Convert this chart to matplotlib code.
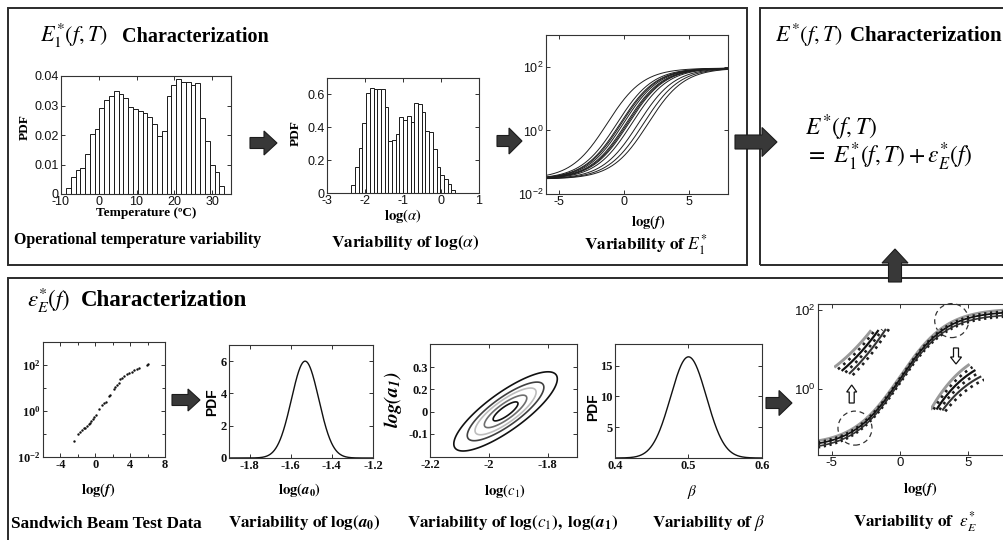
import numpy as np
import matplotlib
matplotlib.use("Agg")
import matplotlib.pyplot as plt
from matplotlib.patches import Rectangle, FancyArrow, Circle
from matplotlib.transforms import ScaledTranslation
from matplotlib.ticker import NullLocator, FixedLocator, NullFormatter

W, H, DPI = 1004, 540, 100
plt.rcParams["font.family"] = "Liberation Sans"
plt.rcParams["mathtext.fontset"] = "stix"

# ---------------- data ----------------
# operational temperature histogram (deg C)
temp_range = (-8.7, 33.2)
temp_pdf = [0.0020, 0.0057, 0.0080, 0.0088, 0.0135, 0.0203, 0.0220, 0.0290,
            0.0320, 0.0333, 0.0350, 0.0338, 0.0327, 0.0294, 0.0287, 0.0283,
            0.0274, 0.0260, 0.0237, 0.0197, 0.0212, 0.0333, 0.0370, 0.0389,
            0.0378, 0.0378, 0.0370, 0.0375, 0.0257, 0.0178, 0.0099, 0.0073,
            0.0026]

# shift factor histogram, log(alpha)
log_alpha_range = (-2.36, 0.37)
log_alpha_pdf = [0.051, 0.159, 0.276, 0.427, 0.606, 0.640, 0.630, 0.636, 0.632,
                 0.524, 0.317, 0.321, 0.358, 0.463, 0.447, 0.467, 0.433, 0.545,
                 0.539, 0.490, 0.378, 0.372, 0.270, 0.159, 0.108, 0.087, 0.057,
                 0.020]

# E1* master curves (sigmoid in log-log): plateaus, rate and midpoints
e1_low, e1_high, e1_rate = -1.53, 1.96, 0.72
e1_midpoints = [-1.3, -0.55, -0.3, -0.2, -0.05, 0.15, 0.25, 0.35, 0.6, 1.1, 1.5, 1.85]

# sandwich beam test data: log(f) and log10(E*)
beam_log_f = [-2.48, -1.98, -1.79, -1.52, -1.33, -1.14, -0.95, -0.76, -0.65, -0.46,
              -0.30, -0.11, 0.08, 0.46, 0.76, 1.03, 1.26, 1.52, 1.71, 2.10, 2.29,
              2.48, 2.67, 2.86, 3.05, 3.35, 3.62, 3.89, 4.19, 4.46, 4.76, 5.03,
              5.90, 6.10]
beam_log_E = [-1.30, -1.00, -0.90, -0.83, -0.75, -0.72, -0.65, -0.57, -0.54, -0.43,
              -0.35, -0.26, -0.19, 0.09, 0.26, 0.33, 0.41, 0.65, 0.70, 0.94, 1.03,
              1.13, 1.20, 1.38, 1.45, 1.54, 1.59, 1.64, 1.71, 1.77, 1.83, 1.88,
              2.00, 2.04]

# log(a0) distribution
a0_mean, a0_std = -1.53, 0.0665
# joint log(c1), log(a1) distribution (spread of the outer contour)
c1_mean, a1_mean = -1.943, 0.101
c1_spread, a1_spread, c1_a1_corr = 0.176, 0.178, 0.82
contour_radii = [0.24, 0.41, 0.59, 0.74, 1.0]
contour_colors = ["#111111", "#6e6e6e", "#bdbdbd", "#404040", "#111111"]
# beta distribution
beta_mean, beta_std = 0.50, 0.0243

# epsilon_E* realisations
eps_low, eps_high, eps_rate, eps_mid = -1.50, 1.95, 0.58, 0.0
eps_offsets = [0.09, 0.055, 0.02, -0.015, -0.05, -0.085]
eps_styles = [("-", "#9a9a9a", 1.8), (":", "#1e1e1e", 1.6), ("-", "#111111", 1.3),
              (":", "#1e1e1e", 1.6), ("-", "#333333", 1.2), (":", "#1e1e1e", 1.6)]

# ---------------- figure ----------------
fig = plt.figure(figsize=(W / DPI, H / DPI), dpi=DPI)
fig.patch.set_facecolor("white")

sans = dict(fontsize=9, family="Liberation Sans")
serifb = dict(fontsize=9, family="Liberation Serif", fontweight="bold")


def px_axes(l, t, r, b):
    return fig.add_axes([l / W, 1 - b / H, (r - l) / W, (b - t) / H])


def style(ax):
    ax.tick_params(direction="in", length=3, width=0.6, top=True, right=True,
                   pad=1.5, colors="#111111", which="both")
    ax.tick_params(which="minor", length=2)
    for s in ax.spines.values():
        s.set_linewidth(0.8)
        s.set_color("#333333")


def ftext(x, y, s, ha="left", va="center", **kw):
    return fig.text(x / W, 1 - y / H, s, ha=ha, va=va, **kw)


def sigmoid(x, low, high, rate, mid):
    return 10 ** (low + (high - low) / (1 + np.exp(-rate * (x - mid))))


def gauss(x, m, s):
    return np.exp(-0.5 * ((x - m) / s) ** 2) / (s * np.sqrt(2 * np.pi))


# frames
for l, t, r, b in [(8, 8, 747, 265), (760, 8, 1012, 265), (8, 278, 1012, 548)]:
    fig.add_artist(Rectangle((l / W, 1 - b / H), (r - l) / W, (b - t) / H, fill=False,
                             lw=1.4, edgecolor="#2b2b2b", transform=fig.transFigure))

# ---- temperature histogram ----
ax1 = px_axes(61, 76, 231, 194)
edges = np.linspace(*temp_range, len(temp_pdf) + 1)
ax1.bar(edges[:-1], temp_pdf, width=np.diff(edges), align="edge", color="white",
        edgecolor="#1a1a1a", lw=0.7)
ax1.set_xlim(-10, 35)
ax1.set_ylim(0, 0.04)
ax1.set_xticks([-10, 0, 10, 20, 30], ["-10", "0", "10", "20", "30"], **sans)
ax1.set_yticks([0, 0.01, 0.02, 0.03, 0.04], ["0", "0.01", "0.02", "0.03", "0.04"], **sans)
style(ax1)

# ---- log(alpha) histogram ----
ax2 = px_axes(327, 78, 479, 193)
edges = np.linspace(*log_alpha_range, len(log_alpha_pdf) + 1)
ax2.bar(edges[:-1], log_alpha_pdf, width=np.diff(edges), align="edge", color="white",
        edgecolor="#1a1a1a", lw=0.7)
ax2.set_xlim(-3, 1)
ax2.set_ylim(0, 0.7)
ax2.set_xticks([-3, -2, -1, 0, 1], ["-3", "-2", "-1", "0", "1"], **sans)
ax2.set_yticks([0, 0.2, 0.4, 0.6], ["0", "0.2", "0.4", "0.6"], **sans)
style(ax2)

# ---- E1* curves ----
ax3 = px_axes(546, 35, 728, 194)
fgrid = np.linspace(-6, 8, 400)
for m in e1_midpoints:
    ax3.plot(fgrid, sigmoid(fgrid, e1_low, e1_high, e1_rate, m), color="#1e1e1e", lw=0.7)
ax3.set_yscale("log")
ax3.set_xlim(-6, 8)
ax3.set_ylim(1e-2, 1e3)
ax3.set_xticks([-5, 0, 5], ["-5", "0", "5"], **sans)
ax3.set_yticks([1e-2, 1e0, 1e2], [r"$\mathregular{10^{-2}}$", r"$\mathregular{10^{0}}$",
                                  r"$\mathregular{10^{2}}$"], **sans)
ax3.yaxis.set_minor_locator(NullLocator())
style(ax3)

# ---- sandwich beam data ----
ax5 = px_axes(43, 342, 165, 457)
ax5.scatter(beam_log_f, 10 ** np.array(beam_log_E), s=3, color="#111111", lw=0)
ax5.set_yscale("log")
ax5.set_xlim(-6, 8)
ax5.set_ylim(1e-2, 1e3)
ax5.set_xticks([-4, 0, 4, 8], ["-4", "0", "4", "8"], **serifb)
ax5.xaxis.set_minor_locator(FixedLocator([-2, 2, 6]))
ax5.set_yticks([1e-2, 1e0, 1e2], [r"$\mathregular{10^{-2}}$", r"$\mathregular{10^{0}}$",
                                  r"$\mathregular{10^{2}}$"], **serifb)
ax5.yaxis.set_minor_locator(FixedLocator([1e-1, 1e1]))
ax5.yaxis.set_minor_formatter(NullFormatter())
ax5.xaxis.set_minor_formatter(NullFormatter())
style(ax5)

# ---- log(a0) ----
ax6 = px_axes(229, 345, 373, 458)
x6 = np.linspace(-1.9, -1.2, 400)
ax6.plot(x6, gauss(x6, a0_mean, a0_std), color="#111111", lw=1.0)
ax6.set_xlim(-1.9, -1.2)
ax6.set_ylim(0, 7)
ax6.set_xticks([-1.8, -1.6, -1.4, -1.2], ["-1.8", "-1.6", "-1.4", "-1.2"], **serifb)
ax6.set_yticks([0, 2, 4, 6], ["0", "2", "4", "6"], **serifb)
style(ax6)

# ---- log(c1), log(a1) contours ----
ax7 = px_axes(430, 344, 577, 457)
cg, ag = np.meshgrid(np.linspace(-2.2, -1.7, 400), np.linspace(-0.11, 0.41, 400))
dx = (cg - c1_mean) / c1_spread
dy = (ag - a1_mean) / a1_spread
quad = (dx ** 2 - 2 * c1_a1_corr * dx * dy + dy ** 2) / (1 - c1_a1_corr ** 2)
ax7.contour(cg, ag, quad, levels=np.array(contour_radii) ** 2, colors=contour_colors,
            linewidths=1.2)
ax7.set_xlim(-2.2, -1.7)
ax7.set_ylim(-0.104, 0.404)
ax7.set_xticks([-2.2, -2.0, -1.8], ["-2.2", "-2", "-1.8"], **serifb)
ax7.set_yticks([0.3, 0.2, 0.1, 0.0], ["0.3", "0.2", "0", "-0.1"], **serifb)
style(ax7)

# ---- beta ----
ax8 = px_axes(615, 344, 762, 458)
x8 = np.linspace(0.4, 0.6, 400)
ax8.plot(x8, gauss(x8, beta_mean, beta_std), color="#111111", lw=1.0)
ax8.set_xlim(0.4, 0.6)
ax8.set_ylim(0, 18.5)
ax8.set_xticks([0.4, 0.5, 0.6], ["0.4", "0.5", "0.6"], **serifb)
ax8.set_yticks([5, 10, 15], ["5", "10", "15"], **serifb)
style(ax8)

# ---- epsilon_E* realisations ----
ax9 = px_axes(818, 304, 1009, 455)
for off, (ls, col, lw) in zip(eps_offsets, eps_styles):
    ax9.plot(fgrid, sigmoid(fgrid, eps_low, eps_high, eps_rate, eps_mid) * 10 ** off,
             ls=ls, color=col, lw=lw)
ax9.set_yscale("log")
ax9.set_xlim(-6, 8)
ax9.set_ylim(10 ** -1.67, 10 ** 2.15)
ax9.set_xticks([-5, 0, 5], ["-5", "0", "5"], fontsize=9.5, family="Liberation Sans")
ax9.set_yticks([1e0, 1e2], [r"$\mathregular{10^{0}}$", r"$\mathregular{10^{2}}$"],
               fontsize=9.5, family="Liberation Sans")
ax9.yaxis.set_minor_locator(NullLocator())
style(ax9)

# magnified views of the band: each realisation drawn over a slightly staggered window
for bounds, (x0, x1), step in [((0.085, 0.52, 0.29, 0.33), (-3.9, -2.7), 0.12),
                               ((0.59, 0.28, 0.28, 0.33), (3.0, 5.0), 0.15)]:
    ins = ax9.inset_axes(bounds)
    lo, hi = np.inf, -np.inf
    for i, (off, (ls, col, lw)) in enumerate(zip(eps_offsets, eps_styles)):
        xs = np.linspace(x0 + i * step, x1 + i * step, 60)
        y = np.log10(sigmoid(xs, eps_low, eps_high, eps_rate, eps_mid)) + off
        lo, hi = min(lo, y.min()), max(hi, y.max())
        ins.plot(xs, y, ls=ls, color=col, lw=lw + 0.3, solid_capstyle="butt")
    ins.set_xlim(x0, x1 + (len(eps_offsets) - 1) * step)
    ins.set_ylim(lo - 0.01, hi + 0.01)
    ins.axis("off")

# dashed circles marking the magnified regions
for cx, cy in [(-3.29, 10 ** -0.99), (3.80, 10 ** 1.73)]:
    tr = fig.dpi_scale_trans + ScaledTranslation(cx, cy, ax9.transData)
    ax9.add_artist(Circle((0, 0), 0.17, transform=tr, fill=False, ls=(0, (4, 3)),
                          lw=0.9, edgecolor="#333333", clip_on=False))


# ---------------- arrows ----------------
def block_arrow(x0, y0, x1, y1, body, head_w, head_l, face="#383838", edge="#1c1c1c",
                lw=0.8):
    fig.add_artist(FancyArrow(x0 / DPI, (H - y0) / DPI, (x1 - x0) / DPI, -(y1 - y0) / DPI,
                              width=body / DPI, head_width=head_w / DPI,
                              head_length=head_l / DPI, length_includes_head=True,
                              transform=fig.dpi_scale_trans, facecolor=face,
                              edgecolor=edge, lw=lw, zorder=10))


block_arrow(250, 143, 277, 143, 11, 24, 13)
block_arrow(497, 141, 522, 141, 11, 26, 13)
block_arrow(735, 142, 777, 142, 14, 29, 15)
block_arrow(895, 282, 895, 249, 13, 26, 14)
block_arrow(172, 400, 200, 400, 11, 22, 12)
block_arrow(766, 403, 792, 403, 11, 25, 13)
# hollow pointers inside the last panel
block_arrow(851.7, 403, 851.7, 385, 5, 10, 7, face="white", edge="#111111", lw=0.9)
block_arrow(956, 348, 956, 364, 5, 11, 7, face="white", edge="#111111", lw=0.9)

# ---------------- texts ----------------
head = dict(family="Liberation Serif", fontweight="bold")
ftext(40, 36, r"$E_1^{*}(f,T)$", fontsize=16)
ftext(122, 37, "Characterization", fontsize=14.5, **head)
ftext(775, 35, r"$E^{*}(f,T)$", fontsize=16)
ftext(850, 36, "Characterization", fontsize=15, **head)
ftext(27, 300, r"$\varepsilon_E^{*}(f)$", fontsize=16.5)
ftext(81, 301, "Characterization", fontsize=16.5, **head)

ftext(805, 128, r"$E^{*}(f,T)$", fontsize=17)
ftext(805, 157, r"$=\ E_1^{*}(f,T)+\varepsilon_E^{*}(f)$", fontsize=17)

ftext(14, 240, "Operational temperature variability", family="Liberation Serif",
      fontweight="bold", fontsize=11.5)
ftext(405, 243, r"$\mathbf{Variability\ of\ log(}\alpha\mathbf{)}$", ha="center", fontsize=12.5)
ftext(646, 245, r"$\mathbf{Variability\ of\ }E_1^{*}$", ha="center", fontsize=12.5)

ftext(11, 524, "Sandwich Beam Test Data", family="Liberation Serif", fontweight="bold",
      fontsize=12.3)
ftext(228, 522, r"$\mathbf{Variability\ of\ log(}\mathbfit{a}_{\mathbf{0}}\mathbf{)}$",
      fontsize=12.3)
ftext(407, 522, r"$\mathbf{Variability\ of\ log(}\mathit{c}_{1}\mathbf{),\ log(}\mathbfit{a}_{\mathbf{1}}\mathbf{)}$",
      fontsize=12.3)
ftext(652, 523, r"$\mathbf{Variability\ of\ }\beta$", fontsize=12.3)
ftext(853, 522, r"$\mathbf{Variability\ of\ \ }\varepsilon_E^{*}$", fontsize=12.3)

# axis labels
lab = dict(fontsize=9.5, family="Liberation Serif", fontweight="bold")
ftext(146, 213, "Temperature (\u00baC)", ha="center", **lab)
ftext(25, 127, "PDF", ha="center", rotation=90, **lab)
ftext(403, 216, r"$\mathbf{log(}\alpha\mathbf{)}$", ha="center", fontsize=10.5)
ftext(296, 133, "PDF", ha="center", rotation=90, **lab)
ftext(648, 222, r"$\mathbf{log(}\mathbfit{f}\mathbf{)}$", ha="center", fontsize=10.5)

ftext(98, 490, r"$\mathbf{log(}\mathbfit{f}\mathbf{)}$", ha="center", fontsize=10.5)
ftext(300, 490, r"$\mathbf{log(}\mathbfit{a}_{\mathbf{0}}\mathbf{)}$", ha="center", fontsize=10.5)
ftext(212, 402, "PDF", ha="center", rotation=90, fontsize=10, fontweight="bold",
      family="Liberation Sans")
ftext(505, 491, r"$\mathbf{log(}\mathit{c}_{1}\mathbf{)}$", ha="center", fontsize=10.5)
ftext(393, 400, r"$\mathbfit{log(a_{1})}$", ha="center", rotation=90, fontsize=14)
ftext(692, 492, r"$\beta$", ha="center", fontsize=11)
ftext(593, 407, "PDF", ha="center", rotation=90, fontsize=10, fontweight="bold",
      family="Liberation Sans")
ftext(920, 489, r"$\mathbf{log(}\mathbfit{f}\mathbf{)}$", ha="center", fontsize=10.5)

fig.savefig("out.png", dpi=DPI, facecolor="white")
